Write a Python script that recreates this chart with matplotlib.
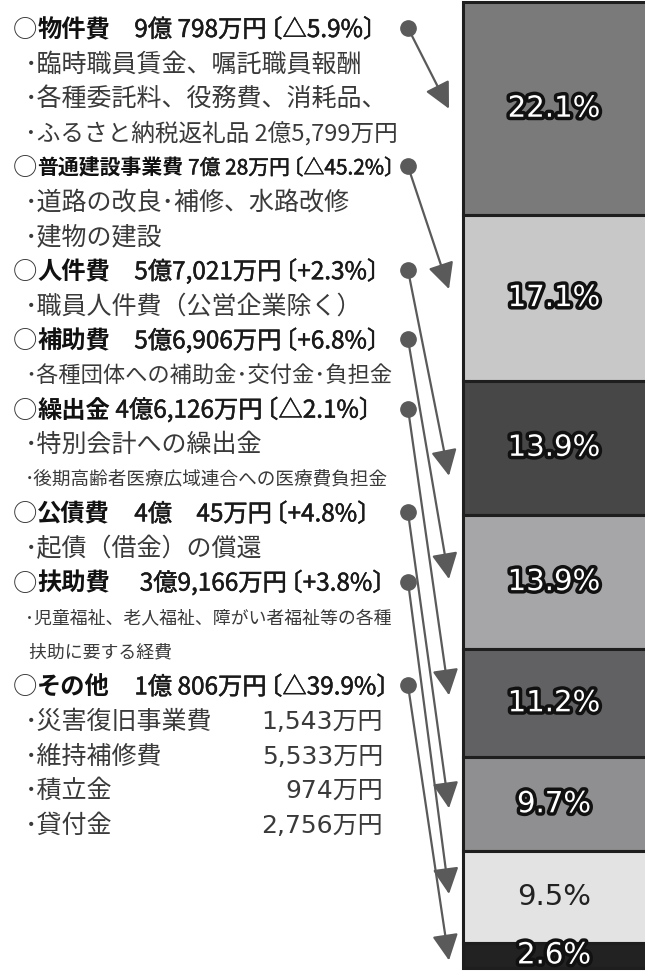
import numpy as np
import matplotlib
matplotlib.use("Agg")
import matplotlib.pyplot as plt
import matplotlib.patheffects as pe

plt.rcParams["font.family"] = ["Noto Sans CJK JP", "DejaVu Sans"]

# ---- データ ----
CATEGORIES = ["物件費", "普通建設事業費", "人件費", "補助費",
              "繰出金", "公債費", "扶助費", "その他"]
AMOUNTS = ["　9億 798万円", " 7億 28万円", "　5億7,021万円", "　5億6,906万円",
           " 4億6,126万円", "　4億　45万円", "　 3億9,166万円", "　1億 806万円"]
CHANGES = ["〔△5.9%〕", "〔△45.2%〕", "〔+2.3%〕", "〔+6.8%〕",
           "〔△2.1%〕", "〔+4.8%〕", "〔+3.8%〕", "〔△39.9%〕"]
SHARES = [22.1, 17.1, 13.9, 13.9, 11.2, 9.7, 9.5, 2.6]
DETAILS = [
    ["･臨時職員賃金、嘱託職員報酬", "･各種委託料、役務費、消耗品、", "･ふるさと納税返礼品 2億5,799万円"],
    ["･道路の改良･補修、水路改修", "･建物の建設"],
    ["･職員人件費（公営企業除く）"],
    ["･各種団体への補助金･交付金･負担金"],
    ["･特別会計への繰出金", "･後期高齢者医療広域連合への医療費負担金"],
    ["･起債（借金）の償還"],
    ["･児童福祉、老人福祉、障がい者福祉等の各種", " 扶助に要する経費"],
    [],
]
OTHER_ITEMS = ["･災害復旧事業費", "･維持補修費", "･積立金", "･貸付金"]
OTHER_AMOUNTS = ["1,543万円", "5,533万円", "974万円", "2,756万円"]

# ---- 見た目 ----
BAR_COLORS = ["#7a7a7a", "#c8c8c8", "#474747", "#a6a6a9",
              "#616163", "#8f8f91", "#e3e3e3", "#222222"]
OUTLINED = [True, True, True, True, True, True, False, True]
ARROW_DY = [0, -9, 28, -3, -8, 4, -3, 5]   # 矢印先端の微調整 (px)
SMALL = {"･後期高齢者医療広域連合への医療費負担金": 13.4,
         "･児童福祉、老人福祉、障がい者福祉等の各種": 12.9,
         " 扶助に要する経費": 12.9,
         "･各種団体への補助金･交付金･負担金": 16,
         "･ふるさと納税返礼品 2億5,799万円": 17}
FS = 18          # 本文
FS_HEAD = 17.5   # 見出し
HEAD_SIZE = {"普通建設事業費": 15}
ROW0, ROW_H = 30, 34.6
GREY = "#5a5a5a"
NUM_FONT = ["DejaVu Sans", "Noto Sans CJK JP"]
TXT = "#3a3a3a"

W, H = 645, 974
fig = plt.figure(figsize=(W / 100, H / 100), dpi=100)

# 右側の積み上げ棒
bar_left, bar_top, bar_bot, bar_right = 463, 2, 968, W + 12
axb = fig.add_axes([bar_left / W, 1 - bar_bot / H,
                    (bar_right - bar_left) / W, (bar_bot - bar_top) / H])
bottoms = np.concatenate([[0], np.cumsum(SHARES)[:-1]])
axb.bar(0.5, SHARES, bottom=bottoms, width=1.0, color=BAR_COLORS,
        edgecolor="#1e1e1e", linewidth=2.2, clip_on=False)
axb.set_xlim(0, 1)
axb.set_ylim(sum(SHARES), 0)
axb.axis("off")

x_lbl = ((W + bar_left) / 2 - bar_left) / (bar_right - bar_left)
for s, b, outl in zip(SHARES, bottoms, OUTLINED):
    if outl:
        axb.text(x_lbl, b + s / 2, f"{s}%", ha="center", va="center",
                 fontsize=21, color="white", family="DejaVu Sans",
                 path_effects=[pe.withStroke(linewidth=5, foreground="#111111")])
    else:
        axb.text(x_lbl, b + s / 2, f"{s}%", ha="center", va="center",
                 fontsize=21, color="#222222", family="DejaVu Sans")

# 左側のテキスト
axt = fig.add_axes([0, 0, 1, 1], zorder=3)
axt.set_xlim(0, W)
axt.set_ylim(H, 0)
axt.axis("off")

heavy = [pe.withStroke(linewidth=0.35, foreground="#1a1a1a")]
row = 0
heads = []
for i, name in enumerate(CATEGORIES):
    y = ROW0 + ROW_H * row
    fs = HEAD_SIZE.get(name, FS_HEAD)
    t0 = axt.text(13, y, "○", fontsize=17.5, va="center", color="#333333")
    t1 = axt.annotate(name, xy=(1, 0.5), xycoords=t0, va="center",
                      fontsize=fs, fontweight="bold", color="#111111")
    t2 = axt.annotate(AMOUNTS[i], xy=(1, 0.5), xycoords=t1, va="center",
                      fontsize=fs, color="#1a1a1a", path_effects=heavy)
    axt.annotate(CHANGES[i], xy=(1, 0.5), xycoords=t2, va="center",
                 xytext=(-fs * 0.35, 0), textcoords="offset points",
                 fontsize=fs, color="#1a1a1a", path_effects=heavy)
    heads.append(y)
    row += 1
    for line in DETAILS[i]:
        y = ROW0 + ROW_H * row
        axt.text(25, y, line, fontsize=SMALL.get(line, FS), va="center",
                 color=TXT)
        row += 1
    if name == "その他":
        for item, amt in zip(OTHER_ITEMS, OTHER_AMOUNTS):
            y = ROW0 + ROW_H * row
            axt.text(25, y, item, fontsize=FS, va="center", color=TXT)
            axt.text(383, y, amt, fontsize=FS, va="center", ha="right",
                     color=TXT, family=NUM_FONT)
            row += 1

# 丸と矢印
for i, y in enumerate(heads):
    c = bottoms[i] + SHARES[i] / 2
    tip = axt.transData.inverted().transform(axb.transData.transform((0, c)))
    tip = (tip[0] - 14, tip[1] + ARROW_DY[i])
    axt.annotate("", xy=tip, xytext=(408, y - 2),
                 arrowprops=dict(arrowstyle="-|>,head_length=0.8,head_width=0.4",
                                 mutation_scale=20, color=GREY, lw=1.6,
                                 shrinkA=0, shrinkB=0))
    axt.plot(408, y - 2, "o", ms=11, color=GREY, zorder=4)

fig.savefig("out.png", dpi=100)
